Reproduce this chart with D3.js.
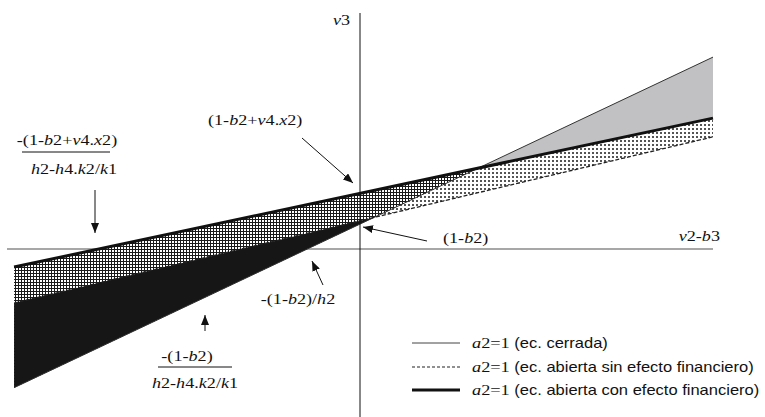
<!DOCTYPE html>
<html>
<head>
<meta charset="utf-8">
<script src="https://cdn.jsdelivr.net/npm/d3@7"></script>
<style>
  body { margin: 0; background: #fff; }
  svg { display: block; }
  .math { font-family: "Liberation Serif", "Times New Roman", serif; font-size: 15.5px; fill: #111; }
  .leg { font-family: "Liberation Sans", Arial, sans-serif; font-size: 14px; fill: #111; }
</style>
</head>
<body>
<div id="chart"></div>
<script>
// extremos de las rectas (eje horizontal v2-b3)
const xEnds = [-0.98, 1.0];
// valores de v3 en cada extremo
const closedY = [-0.393, 0.544];     // a2=1 (ec. cerrada)
const openNoFinY = [-0.153, 0.318];  // a2=1 (ec. abierta sin efecto financiero)
const openFinY = [-0.051, 0.371];    // a2=1 (ec. abierta con efecto financiero)

const legendLabels = [
    "(ec. cerrada)",
    "(ec. abierta sin efecto financiero)",
    "(ec. abierta con efecto financiero)"
];

const width = 765, height = 417;
const sx = 1.17; // el texto original esta estirado a lo ancho

const svg = d3.select("#chart").append("svg")
    .attr("width", width)
    .attr("height", height);

const x = d3.scaleLinear().domain([-1, 1]).range([7, 713]);
const y = d3.scaleLinear().domain([-0.476, 0.669]).range([417, 13]);

// valor de una recta en x
function at(ys, v) {
    return ys[0] + (ys[1] - ys[0]) * (v - xEnds[0]) / (xEnds[1] - xEnds[0]);
}
// corte entre dos rectas
function cross(a, b) {
    const sa = (a[1] - a[0]) / (xEnds[1] - xEnds[0]);
    const sb = (b[1] - b[0]) / (xEnds[1] - xEnds[0]);
    return xEnds[0] + (b[0] - a[0]) / (sa - sb);
}

// patrones
const defs = svg.append("defs");
const hatch = defs.append("pattern")
    .attr("id", "hatch").attr("patternUnits", "userSpaceOnUse")
    .attr("width", 3).attr("height", 3);
hatch.append("rect").attr("width", 3).attr("height", 3).attr("fill", "#1a1a1a");
hatch.append("rect").attr("x", 1).attr("y", 1).attr("width", 2).attr("height", 2).attr("fill", "#fff");

const dots = defs.append("pattern")
    .attr("id", "dots").attr("patternUnits", "userSpaceOnUse")
    .attr("width", 4).attr("height", 4);
dots.append("rect").attr("width", 4).attr("height", 4).attr("fill", "#fff");
dots.append("rect").attr("width", 2).attr("height", 2).attr("fill", "#555");

defs.append("marker")
    .attr("id", "arrow")
    .attr("viewBox", "0 0 10 8")
    .attr("markerUnits", "userSpaceOnUse")
    .attr("markerWidth", 10).attr("markerHeight", 8)
    .attr("refX", 10).attr("refY", 4)
    .attr("orient", "auto")
    .append("path").attr("d", "M0,0 L10,4 L0,8 Z").attr("fill", "#111");

// eje horizontal
svg.append("line")
    .attr("x1", x(-1)).attr("x2", x(1))
    .attr("y1", y(0)).attr("y2", y(0))
    .attr("stroke", "#8a8a8a").attr("stroke-width", 1.6);

// areas entre rectas
function band(lo, hi, from, to) {
    return d3.area()
        .x(d => x(d))
        .y0(d => y(at(lo, d)))
        .y1(d => y(at(hi, d)))([from, to]);
}
const xFinClosed = cross(closedY, openFinY);
const xNoFinClosed = cross(closedY, openNoFinY);

svg.append("path").attr("d", band(openNoFinY, openFinY, xEnds[0], xEnds[1])).attr("fill", "url(#dots)");
svg.append("path").attr("d", band(openFinY, closedY, xFinClosed, xEnds[1])).attr("fill", "#c1c1c3");
svg.append("path").attr("d", band(closedY, openFinY, xEnds[0], xFinClosed)).attr("fill", "url(#hatch)");
svg.append("path").attr("d", band(closedY, openNoFinY, xEnds[0], xNoFinClosed)).attr("fill", "#161616");

// rectas
const line = d3.line().x(d => x(d[0])).y(d => y(d[1]));
function pts(ys) { return xEnds.map((v, i) => [v, ys[i]]); }

svg.append("path").attr("d", line(pts(closedY)))
    .attr("fill", "none").attr("stroke", "#333").attr("stroke-width", 1);
svg.append("path").attr("d", line(pts(openNoFinY)))
    .attr("fill", "none").attr("stroke", "#222").attr("stroke-width", 1.3)
    .attr("stroke-dasharray", "4,2");
svg.append("path").attr("d", line(pts(openFinY)))
    .attr("fill", "none").attr("stroke", "#111").attr("stroke-width", 3);

// eje vertical
svg.append("line")
    .attr("x1", x(0)).attr("x2", x(0))
    .attr("y1", y.range()[1]).attr("y2", y.range()[0])
    .attr("stroke", "#111").attr("stroke-width", 1);

// texto con letras en cursiva
function mathText(str, px, py, anchor) {
    const t = svg.append("text").attr("class", "math")
        .attr("transform", `translate(${px},${py}) scale(${sx},1)`)
        .attr("text-anchor", anchor || "start");
    const parts = str.match(/[a-z]+|[^a-z]+/g);
    parts.forEach(p => {
        t.append("tspan")
            .attr("font-style", /[a-z]/.test(p) ? "italic" : "normal")
            .text(p);
    });
    return t;
}
function arrow(x1, y1, x2, y2) {
    svg.append("line")
        .attr("x1", x1).attr("y1", y1).attr("x2", x2).attr("y2", y2)
        .attr("stroke", "#111").attr("stroke-width", 1)
        .attr("marker-end", "url(#arrow)");
}
function fracLine(x1, x2, yy) {
    svg.append("line").attr("x1", x1).attr("x2", x2).attr("y1", yy).attr("y2", yy)
        .attr("stroke", "#111").attr("stroke-width", 1);
}

mathText("v3", 350, 25, "end");
mathText("v2-b3", 720, 241, "end");

mathText("(1-b2+v4.x2)", 208, 125);
arrow(302, 138, 353, 183);

mathText("-(1-b2+v4.x2)", 67, 145, "middle");
fracLine(22, 110, 152);
mathText("h2-h4.k2/k1", 74, 174, "middle");
arrow(95, 190, 95, 233);

mathText("(1-b2)", 443, 243);
arrow(427, 241, 363, 227);

mathText("-(1-b2)/h2", 298, 304, "middle");
arrow(323, 285, 312, 261);

mathText("-(1-b2)", 187, 361, "middle");
fracLine(158, 232, 367);
mathText("h2-h4.k2/k1", 195, 388, "middle");
arrow(205, 331, 205, 315);

// leyenda
const legY = [343, 367, 390];
const legStyles = [
    { w: 1, c: "#444", dash: null },
    { w: 1.2, c: "#222", dash: "3,2" },
    { w: 3, c: "#111", dash: null }
];
legendLabels.forEach((lab, i) => {
    svg.append("line")
        .attr("x1", 412).attr("x2", 460)
        .attr("y1", legY[i]).attr("y2", legY[i])
        .attr("stroke", legStyles[i].c)
        .attr("stroke-width", legStyles[i].w)
        .attr("stroke-dasharray", legStyles[i].dash);
    const t = svg.append("text")
        .attr("transform", `translate(472,${legY[i] + 5}) scale(1.18,1)`);
    t.append("tspan").attr("class", "math").attr("font-style", "italic").text("a");
    t.append("tspan").attr("class", "math").text("2=1 ");
    t.append("tspan").attr("class", "leg").text(lab);
});
</script>
</body>
</html>
